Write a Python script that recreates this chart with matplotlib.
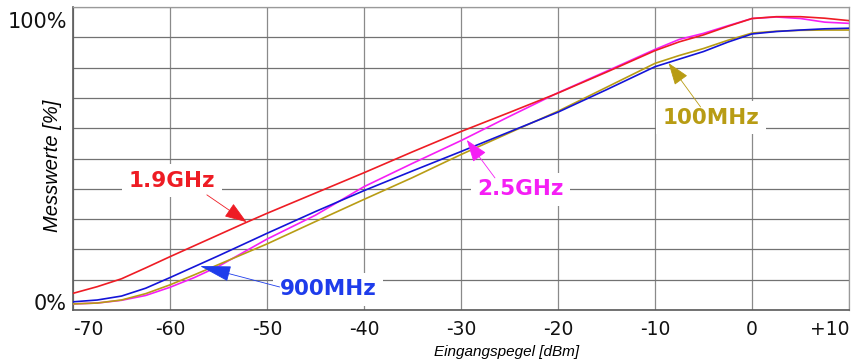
import matplotlib
matplotlib.use("Agg")
import matplotlib.pyplot as plt

# ---- data ----
x_dbm = [-70, -67.5, -65, -62.5, -60, -57.5, -55, -52.5, -50, -45, -40, -35, -30,
         -25, -20, -15, -10, -7.5, -5, -2.5, 0, 2.5, 5, 7.5, 10]

red_19ghz = [5.5, 7.7, 10.3, 13.9, 17.6, 21.2, 24.8, 28.4, 31.9, 38.6, 45.3, 52.2, 58.9,
             65.2, 71.6, 78.5, 85.6, 88.5, 90.8, 93.6, 96.2, 96.8, 96.8, 96.3, 95.5]
mag_25ghz = [2.0, 2.3, 3.2, 4.8, 7.5, 10.7, 14.4, 18.9, 23.4, 31.3, 40.7, 48.4, 55.9,
             63.9, 71.7, 78.8, 86.0, 89.3, 91.3, 93.8, 96.2, 96.7, 96.2, 95.0, 94.6]
blue_900mhz = [2.7, 3.3, 4.6, 7.2, 10.7, 14.3, 17.9, 21.6, 25.3, 32.5, 39.4, 45.9, 52.3,
               58.8, 65.3, 72.7, 80.3, 82.8, 85.3, 88.4, 91.1, 91.9, 92.4, 92.8, 93.0]
gold_100mhz = [2.0, 2.3, 3.3, 5.4, 8.3, 11.6, 15.0, 18.4, 21.8, 29.2, 36.5, 43.7, 51.3,
               58.5, 65.6, 73.5, 81.4, 84.0, 86.3, 89.0, 91.4, 92.0, 92.3, 92.4, 92.4]

x_ticks = [-70, -60, -50, -40, -30, -20, -10, 0, 10]
x_tick_labels = ["-70", "-60", "-50", "-40", "-30", "-20", "-10", "0", "+10"]
y_grid = [0, 10, 20, 30, 40, 50, 60, 70, 80, 90, 100]
y_label_pos = [2.6, 95.6]
y_labels = ["0%", "100%"]

# label text, text position, arrow tail, arrow tip
labels = ["1.9GHz", "2.5GHz", "100MHz", "900MHz"]
label_xy = [(-59.8, 42.6), (-23.9, 39.9), (-4.2, 63.4), (-43.7, 6.9)]
tail_xy = [(-56.2, 38.0), (-26.5, 43.6), (-5.3, 67.0), (-48.7, 7.6)]
tip_xy = [(-52.1, 29.0), (-29.4, 56.1), (-8.6, 81.5), (-56.9, 14.5)]

c_red = "#ee1c24"
c_mag = "#f51ef5"
c_blue = "#1414d8"
c_gold = "#b89c14"
label_colors = [c_red, c_mag, c_gold, "#1e3ceb"]
head_len = [1.4, 1.4, 1.4, 2.0]

fig = plt.figure(figsize=(8.56, 3.64), dpi=100)
ax = fig.add_axes([73 / 856, 54 / 364, 776 / 856, 303 / 364])

ax.plot(x_dbm, mag_25ghz, color=c_mag, lw=1.2, zorder=3)
ax.plot(x_dbm, gold_100mhz, color=c_gold, lw=1.2, zorder=4)
ax.plot(x_dbm, blue_900mhz, color=c_blue, lw=1.2, zorder=5)
ax.plot(x_dbm, red_19ghz, color=c_red, lw=1.2, zorder=6)

ax.set_xlim(-70, 10)
ax.set_ylim(0, 100)

ax.set_xticks(x_ticks)
ax.set_xticklabels(x_tick_labels)
ax.set_yticks(y_grid, minor=True)
ax.set_yticks(y_label_pos)
ax.set_yticklabels(y_labels)

ax.grid(axis="x", which="major", color="#8a8a8a", lw=0.9, zorder=0)
ax.grid(axis="y", which="minor", color="#727272", lw=0.9, zorder=0)
ax.grid(axis="y", which="major", visible=False)
ax.set_axisbelow(True)

ax.tick_params(axis="x", which="both", length=0, pad=7, labelsize=13.5, colors="#111111")
ax.tick_params(axis="y", which="both", length=0, pad=4.3, labelsize=15, colors="#111111")
xl = ax.get_xticklabels()
xl[0].set_ha("left")
xl[-1].set_ha("right")

for s in ["left", "bottom"]:
    ax.spines[s].set_color("#5a5a5a")
    ax.spines[s].set_linewidth(1.2)
for s in ["top", "right"]:
    ax.spines[s].set_color("#9a9a9a")
    ax.spines[s].set_linewidth(0.9)

ax.set_xlabel("Eingangspegel [dBm]", family=["Liberation Sans", "DejaVu Sans"],
              style="italic", fontsize=11, va="center")
ax.xaxis.set_label_coords(0.559, -0.14)
ax.set_ylabel("Messwerte [%]", family=["Liberation Sans", "DejaVu Sans"],
              style="italic", fontsize=14.5, va="center")
ax.yaxis.set_label_coords(-0.026, 0.475)

for lab, pos, tail, tip, col, hl in zip(labels, label_xy, tail_xy, tip_xy, label_colors, head_len):
    ax.annotate("", xy=tip, xytext=tail,
                arrowprops=dict(arrowstyle=f"-|>,head_length={hl},head_width=0.5",
                                mutation_scale=10, color=col, lw=0.6,
                                shrinkA=0, shrinkB=0), zorder=8)
    ax.text(pos[0], pos[1], lab, color=col, fontsize=15.5, fontweight="bold",
            family="DejaVu Sans", ha="center", va="center", zorder=7,
            bbox=dict(boxstyle="square,pad=0.3", fc="white", ec="none"))

fig.savefig("out.png", dpi=100)
